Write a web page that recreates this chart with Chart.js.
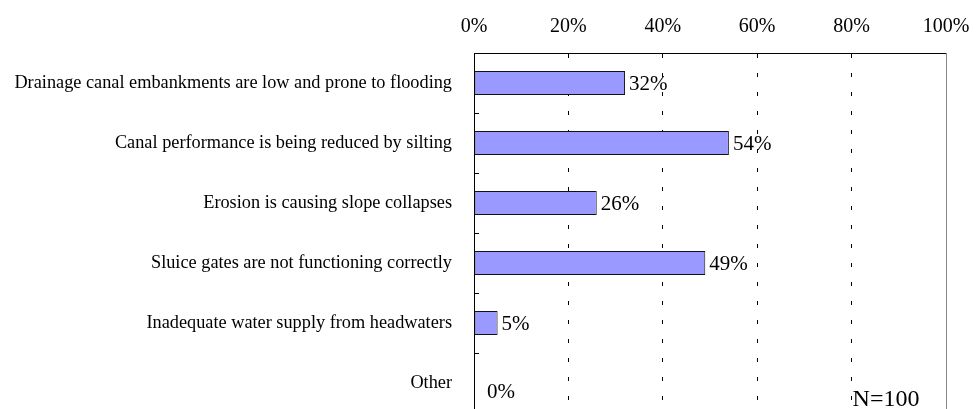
<!DOCTYPE html>
<html>
<head>
<meta charset="utf-8">
<script src="https://cdn.jsdelivr.net/npm/chart.js@4"></script>
<style>
  html, body { margin: 0; padding: 0; background: #fff; overflow: hidden; }
  #wrap { width: 976px; height: 413px; position: relative; }
</style>
</head>
<body>
<div id="wrap"><canvas id="issueChart"></canvas></div>
<script>
// categories and shares (percent of respondents)
var categories = [
    "Drainage canal embankments are low and prone to flooding",
    "Canal performance is being reduced by silting",
    "Erosion is causing slope collapses",
    "Sluice gates are not functioning correctly",
    "Inadequate water supply from headwaters",
    "Other"
];
var shares = [32, 54, 26, 49, 5, 0];
var xTicks = [0, 20, 40, 60, 80, 100];
var sampleNote = "N=100";

var serif = "'Liberation Serif', 'Times New Roman', serif";

// writes the value after each bar end
var valueLabels = {
    id: 'valueLabels',
    afterDatasetsDraw: function(chart) {
        var ctx = chart.ctx;
        var meta = chart.getDatasetMeta(0);
        ctx.save();
        ctx.font = "21px " + serif;
        ctx.fillStyle = "#000";
        ctx.textBaseline = "middle";
        ctx.textAlign = "left";
        meta.data.forEach(function(bar, i) {
            var v = shares[i];
            var off = v === 0 ? 13 : 4;
            ctx.fillText(v + "%", bar.x + off, bar.y + (v === 0 ? 9 : 1));
        });
        ctx.restore();
    }
};

// right frame line, inward category ticks, N note
var frame = {
    id: 'frame',
    afterDraw: function(chart) {
        var ctx = chart.ctx;
        var a = chart.chartArea;
        var ys = chart.scales.y;
        ctx.save();
        ctx.strokeStyle = "#888";
        ctx.lineWidth = 1;
        ctx.beginPath();
        ctx.moveTo(a.right + 0.5, a.top);
        ctx.lineTo(a.right + 0.5, a.bottom);
        ctx.stroke();

        ctx.strokeStyle = "#000";
        ctx.beginPath();
        for (var i = 0; i < categories.length; i++) {
            var yb = Math.round(ys.getPixelForValue(i) + ys.height / categories.length / 2) + 0.5;
            ctx.moveTo(a.left, yb);
            ctx.lineTo(a.left + 5, yb);
        }
        ctx.stroke();

        ctx.font = "24px " + serif;
        ctx.fillStyle = "#000";
        ctx.textBaseline = "alphabetic";
        ctx.textAlign = "left";
        ctx.fillText(sampleNote, chart.scales.x.getPixelForValue(80) + 1, a.top + 353);
        ctx.restore();
    }
};

var issueChart = new Chart(document.getElementById("issueChart"), {
    type: 'bar',
    data: {
        labels: categories,
        datasets: [{
            data: shares,
            backgroundColor: '#9999FF',
            borderColor: '#111',
            borderWidth: 1,
            borderSkipped: false,
            categoryPercentage: 0.8,
            barPercentage: 0.5
        }]
    },
    options: {
        indexAxis: 'y',
        responsive: true,
        maintainAspectRatio: false,
        animation: false,
        layout: { padding: { left: 0, right: 30, top: 0, bottom: 0 } },
        plugins: {
            legend: { display: false },
            tooltip: { enabled: false }
        },
        scales: {
            x: {
                position: 'top',
                min: 0,
                max: 100,
                afterBuildTicks: function(scale) {
                    scale.ticks = xTicks.map(function(v) { return { value: v }; });
                },
                ticks: {
                    font: { family: serif, size: 20 },
                    color: '#000',
                    padding: 14,
                    callback: function(v) { return v + '%'; }
                },
                grid: {
                    drawTicks: false,
                    color: function(c) {
                        var v = c.tick ? c.tick.value : null;
                        return (v === 0 || v === 100) ? 'rgba(0,0,0,0)' : '#000';
                    },
                    lineWidth: 1
                },
                border: { display: true, color: '#000', width: 1, dash: [4, 15] },
                afterFit: function(scale) {
                    scale.height = 53;
                    scale.paddingLeft = 0;
                    scale.paddingRight = 0;
                }
            },
            y: {
                ticks: {
                    font: { family: serif, size: 18.3 },
                    color: '#000',
                    padding: 22,
                    autoSkip: false
                },
                grid: { display: false, drawTicks: false },
                border: { display: true, color: '#000', width: 1 },
                afterFit: function(scale) {
                    scale.width = 474;
                    scale.paddingTop = 0;
                    scale.paddingBottom = 0;
                }
            }
        }
    },
    plugins: [valueLabels, frame]
});
</script>
</body>
</html>
